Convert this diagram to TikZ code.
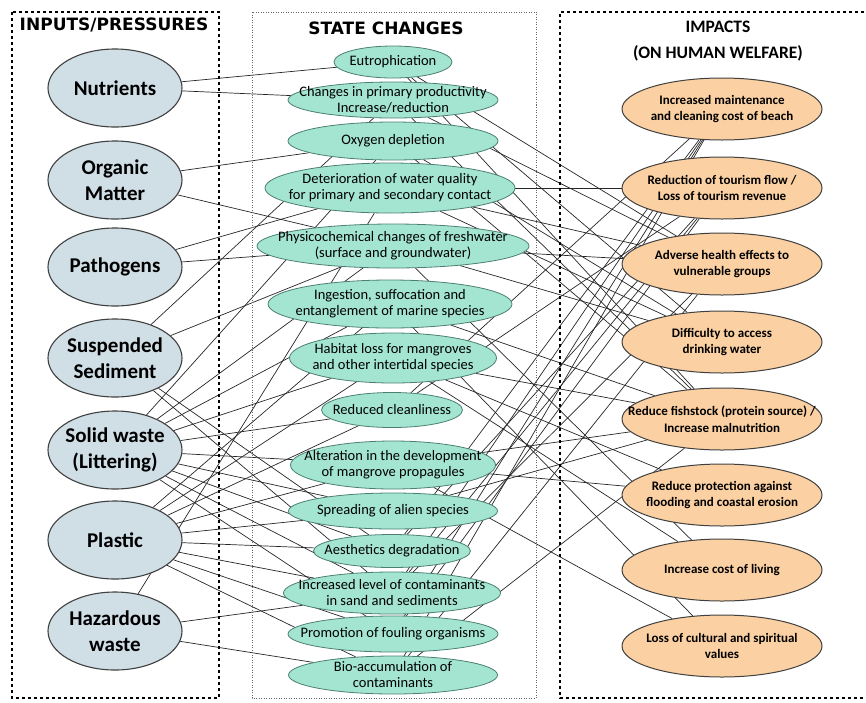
\documentclass[tikz,border=0pt]{standalone}
\usepackage{fontspec}
\setmainfont{Carlito}
\newfontfamily\titlefont{DejaVu Sans}
\usetikzlibrary{shapes.geometric,backgrounds}
\definecolor{inpfill}{HTML}{D0DEE6}
\definecolor{stfill}{HTML}{A3E5D1}
\definecolor{stedge}{HTML}{4C7F72}
\definecolor{impfill}{HTML}{FBD0A2}
\definecolor{edgegray}{HTML}{404040}
\tikzset{
  inp/.style={ellipse, draw=edgegray, line width=1.1pt, fill=inpfill, minimum width=134pt, minimum height=78pt, inner sep=0pt},
  inpt/.style={align=center, inner sep=0pt, font=\fontsize{21}{26}\selectfont\bfseries},
  st/.style={ellipse, draw=stedge, line width=0.8pt, fill=stfill, inner sep=0pt},
  stt/.style={align=center, inner sep=0pt, font=\fontsize{14.5}{16}\selectfont},
  imp/.style={ellipse, draw=edgegray, line width=1pt, fill=impfill, minimum width=200pt, minimum height=62pt, inner sep=0pt},
  impt/.style={align=center, inner sep=0pt, font=\fontsize{13}{16.5}\selectfont\bfseries},
  link/.style={draw=black!85, line width=0.7pt},
  thickbox/.style={draw=black, line width=2pt, dash pattern=on 3pt off 3pt},
  thinbox/.style={draw=black!60, line width=0.8pt, dash pattern=on 1pt off 1.5pt},
  ttl/.style={font=\titlefont\fontsize{17}{20}\selectfont\bfseries, inner sep=0pt},
  ittl/.style={font=\fontsize{17.5}{26}\selectfont\bfseries, align=center, inner sep=0pt}
}
\begin{document}
\begin{tikzpicture}[x=1pt,y=-1pt]
\useasboundingbox (0,0) rectangle (866,702);

% boxes
\draw[thickbox] (12,12) rectangle (219,698);
\draw[thinbox] (252,12) rectangle (536,698);
\draw[thickbox] (870,12) -- (560,12) -- (560,698) -- (870,698);

% titles
\node[ttl] (t1) at (114,25) {INPUTS/PRESSURES};
\node[ttl] (t2) at (386,28) {STATE CHANGES};
\node[ittl] (t3) at (718,41) {IMPACTS\\(ON HUMAN WELFARE)};

% inputs
\node[inp, label={[inpt]center:{Nutrients}}] (N)  at (115,88)  {};
\node[inp, label={[inpt]center:{Organic\\Matter}}] (OM) at (115,180) {};
\node[inp, label={[inpt]center:{Pathogens}}] (PA) at (115,267) {};
\node[inp, label={[inpt]center:{Suspended\\Sediment}}] (SS) at (115,358) {};
\node[inp, label={[inpt]center:{Solid waste\\(Littering)}}] (SW) at (115,450) {};
\node[inp, label={[inpt]center:{Plastic}}] (PL) at (115,540) {};
\node[inp, label={[inpt]center:{Hazardous\\waste}}] (HZ) at (115,631) {};

% states
\node[st, minimum width=118pt, minimum height=32pt, label={[stt]center:{Eutrophication}}] (EU) at (393,62) {};
\node[st, minimum width=210pt, minimum height=36pt, label={[stt]center:{Changes in primary productivity\\Increase/reduction}}] (PR) at (393,100) {};
\node[st, minimum width=210pt, minimum height=38pt, label={[stt]center:{Oxygen depletion}}] (OX) at (393,141) {};
\node[st, minimum width=250pt, minimum height=50pt, label={[stt]center:{Deterioration of water quality\\for primary and secondary contact}}] (DE) at (390,188) {};
\node[st, minimum width=272pt, minimum height=44pt, label={[stt]center:{Physicochemical changes of freshwater\\(surface and groundwater)}}] (PH) at (393,246) {};
\node[st, minimum width=244pt, minimum height=48pt, label={[stt]center:{Ingestion, suffocation and\\entanglement of marine species}}] (IN) at (390,304) {};
\node[st, minimum width=207pt, minimum height=50pt, label={[stt]center:{Habitat loss for mangroves\\and other intertidal species}}] (HA) at (393,358) {};
\node[st, minimum width=141pt, minimum height=35pt, label={[stt]center:{Reduced cleanliness}}] (RC) at (392,410) {};
\node[st, minimum width=205pt, minimum height=48pt, label={[stt]center:{Alteration in the development\\of mangrove propagules}}] (AL) at (393,465) {};
\node[st, minimum width=209pt, minimum height=36pt, label={[stt]center:{Spreading of alien species}}] (SP) at (393,511) {};
\node[st, minimum width=157pt, minimum height=33pt, label={[stt]center:{Aesthetics degradation}}] (AE) at (392,551) {};
\node[st, minimum width=217pt, minimum height=42pt, label={[stt]center:{Increased level of contaminants\\in sand and sediments}}] (IC) at (392,593) {};
\node[st, minimum width=210pt, minimum height=36pt, label={[stt]center:{Promotion of fouling organisms}}] (PO) at (393,634) {};
\node[st, minimum width=209pt, minimum height=38pt, label={[stt]center:{Bio-accumulation of\\contaminants}}] (BI) at (393,675) {};

% impacts
\node[imp, label={[impt]center:{Increased maintenance\\and cleaning cost of beach}}] (IM) at (722,109) {};
\node[imp, label={[impt]center:{Reduction of tourism flow /\\Loss of tourism revenue}}] (RT) at (722,188) {};
\node[imp, label={[impt]center:{Adverse health effects to\\vulnerable groups}}] (AH) at (722,264) {};
\node[imp, label={[impt]center:{Difficulty to access\\drinking water}}] (DW) at (722,342) {};
\node[imp, label={[impt]center:{Reduce fishstock (protein source) /\\Increase malnutrition}}] (RF) at (722,419) {};
\node[imp, label={[impt]center:{Reduce protection against\\flooding and coastal erosion}}] (RP) at (722,495) {};
\node[imp, label={[impt]center:{Increase cost of living}}] (CL) at (722,570) {};
\node[imp, label={[impt]center:{Loss of cultural and spiritual\\values}}] (LC) at (722,646) {};

\begin{scope}[on background layer]
\foreach \a/\b in {N/EU, N/PR, OM/OX, OM/PH, PA/DE, PA/PH,
  SS/PR, SS/PH, SS/AE, SS/IC,
  SW/OX, SW/PH, SW/IN, SW/HA, SW/RC, SW/AL, SW/SP, SW/AE, SW/PO, SW/IC,
  PL/IN, PL/HA, PL/RC, PL/AL, PL/SP, PL/AE, PL/IC, PL/PO, PL/BI,
  HZ/DE, HZ/IC, HZ/BI}
  \draw[link] (\a) -- (\b);
\foreach \a/\b in {EU/AH, EU/DW, EU/RF, PR/RF, PR/AH, OX/RF, OX/DW,
  DE/RT, DE/AH, DE/DW, PH/AH, PH/DW, PH/CL, IN/RF, IN/LC,
  HA/RF, HA/RP, HA/CL, RC/IM, RC/RT, AL/RF, AL/RP, AL/LC, SP/RF,
  AE/IM, AE/RT, IC/IM, IC/RT, IC/AH, PO/IM, PO/RT, BI/AH, BI/RF, BI/IM}
  \draw[link] (\a) -- (\b);
\end{scope}
\end{tikzpicture}
\end{document}
